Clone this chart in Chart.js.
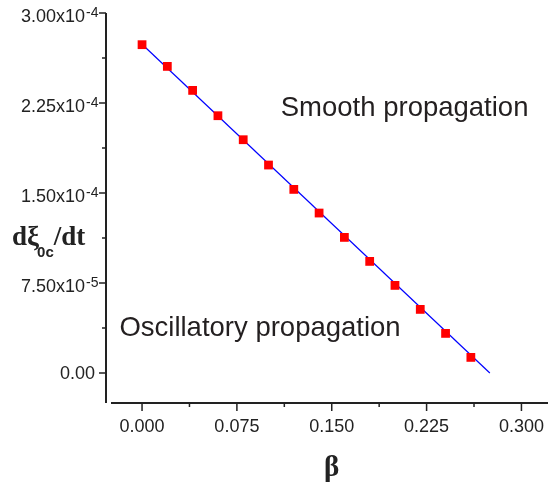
<!DOCTYPE html>
<html>
<head>
<meta charset="utf-8">
<script src="https://cdn.jsdelivr.net/npm/chart.js@4/dist/chart.umd.min.js"></script>
<style>
  html, body { margin: 0; padding: 0; background: #fff; }
  #wrap { width: 548px; height: 487px; }
</style>
</head>
<body>
<div id="wrap"><canvas id="myChart" width="548" height="487"></canvas></div>
<script>
// data
const betaValues = [0, 0.02, 0.04, 0.06, 0.08, 0.10, 0.12, 0.14, 0.16, 0.18, 0.20, 0.22, 0.24, 0.26];
const rateValues = [2.736e-4, 2.555e-4, 2.355e-4, 2.144e-4, 1.944e-4, 1.733e-4, 1.530e-4,
                    1.333e-4, 1.130e-4, 9.30e-5, 7.30e-5, 5.30e-5, 3.30e-5, 1.30e-5];
// linear fit drawn through the points
const fitBeta = [0, 0.275];
const fitRate = [2.74e-4, 0];

// axes
const xRange = [-0.0285, 0.321];
const yRange = [-2.5e-5, 3.0e-4];
const xTicks = [0, 0.075, 0.15, 0.225, 0.3];
const xTickLabels = ['0.000', '0.075', '0.150', '0.225', '0.300'];
const xMinorTicks = [0.0375, 0.1125, 0.1875, 0.2625];
const yTicks = [0, 7.5e-5, 1.5e-4, 2.25e-4, 3.0e-4];
const yTickLabels = ['0.00', '7.50x10^-5', '1.50x10^-4', '2.25x10^-4', '3.00x10^-4'];
const yMinorTicks = [3.75e-5, 1.125e-4, 1.875e-4, 2.625e-4];

const SANS = '"Liberation Sans", Arial, sans-serif';
const SERIF = '"Liberation Serif", "Times New Roman", serif';
const INK = '#222';

// axes, ticks, labels, titles, notes
const originAxes = {
    id: 'originAxes',
    afterDraw(chart) {
        const ctx = chart.ctx;
        const xs = chart.scales.x, ys = chart.scales.y;
        const ax = xs.left, ay = ys.bottom;
        ctx.save();
        ctx.strokeStyle = INK;
        ctx.fillStyle = INK;

        // axis lines (Origin style, not joined)
        ctx.lineWidth = 2;
        ctx.beginPath();
        ctx.moveTo(ax, ys.getPixelForValue(yRange[1]));
        ctx.lineTo(ax, ay);
        ctx.moveTo(ax + 5, ay);
        ctx.lineTo(xs.right, ay);
        ctx.stroke();

        // ticks
        ctx.lineWidth = 1.5;
        ctx.beginPath();
        xTicks.forEach(v => { const p = xs.getPixelForValue(v); ctx.moveTo(p, ay); ctx.lineTo(p, ay + 8); });
        xMinorTicks.forEach(v => { const p = xs.getPixelForValue(v); ctx.moveTo(p, ay); ctx.lineTo(p, ay + 4); });
        yTicks.forEach(v => { const p = ys.getPixelForValue(v); ctx.moveTo(ax, p); ctx.lineTo(ax - 7, p); });
        yMinorTicks.forEach(v => { const p = ys.getPixelForValue(v); ctx.moveTo(ax, p); ctx.lineTo(ax - 4, p); });
        ctx.stroke();

        // x tick labels
        ctx.font = '18px ' + SANS;
        ctx.textAlign = 'center';
        ctx.textBaseline = 'alphabetic';
        xTicks.forEach((v, i) => ctx.fillText(xTickLabels[i], xs.getPixelForValue(v), ay + 28.5));

        // y tick labels with superscript exponent
        yTicks.forEach((v, i) => {
            const p = ys.getPixelForValue(v);
            const parts = yTickLabels[i].split('^');
            if (parts.length === 1) {
                ctx.font = '18px ' + SANS;
                ctx.textAlign = 'right';
                ctx.fillText(parts[0], ax - 11, p + 6);
            } else {
                ctx.font = '18px ' + SANS;
                ctx.textAlign = 'right';
                ctx.fillText(parts[0], ax - 21, p + 8.5);
                ctx.font = '14px ' + SANS;
                ctx.textAlign = 'left';
                ctx.fillText(parts[1], ax - 20, p + 3.5);
            }
        });

        // x title
        ctx.font = 'bold 29px ' + SERIF;
        ctx.textAlign = 'center';
        ctx.fillText('β', xs.getPixelForValue(0.15), 476);

        // y title: dξ_0c/dt
        ctx.textAlign = 'left';
        let tx = 12;
        ctx.font = 'bold 27px ' + SERIF;
        ctx.fillText('dξ', tx, 245);
        tx += ctx.measureText('dξ').width - 2;
        ctx.font = 'bold 15px ' + SANS;
        ctx.fillText('0c', tx, 257);
        tx += ctx.measureText('0c').width;
        ctx.font = 'bold 27px ' + SERIF;
        ctx.fillText('/dt', tx, 245);

        // region notes
        ctx.fillStyle = '#231f20';
        ctx.font = '27.5px ' + SANS;
        ctx.fillText('Smooth propagation', xs.getPixelForValue(0.1097), ys.getPixelForValue(2.144e-4));
        ctx.fillText('Oscillatory propagation', xs.getPixelForValue(-0.0179), ys.getPixelForValue(3.11e-5));
        ctx.restore();
    }
};

const ctx = document.getElementById('myChart').getContext('2d');
const myChart = new Chart(ctx, {
    type: 'scatter',
    data: {
        datasets: [{
            label: 'data',
            data: betaValues.map((b, i) => ({ x: b, y: rateValues[i] })),
            pointStyle: 'rect',
            pointRadius: 6.2,
            pointBackgroundColor: '#ff0000',
            pointBorderColor: '#ff0000',
            pointBorderWidth: 0,
            showLine: false,
            order: 0
        }, {
            label: 'fit',
            data: fitBeta.map((b, i) => ({ x: b, y: fitRate[i] })),
            showLine: true,
            borderColor: '#0000ff',
            borderWidth: 1.2,
            pointRadius: 0,
            order: 1
        }]
    },
    options: {
        responsive: false,
        animation: false,
        events: [],
        layout: { autoPadding: false, padding: { top: 13, right: 0, left: 0, bottom: 0 } },
        plugins: { legend: { display: false }, tooltip: { enabled: false } },
        scales: {
            x: {
                type: 'linear',
                min: xRange[0],
                max: xRange[1],
                grid: { display: false },
                border: { display: false },
                ticks: { display: false },
                afterFit(scale) { scale.height = 84; }
            },
            y: {
                type: 'linear',
                min: yRange[0],
                max: yRange[1],
                grid: { display: false },
                border: { display: false },
                ticks: { display: false },
                afterFit(scale) { scale.width = 106; }
            }
        }
    },
    plugins: [originAxes]
});
</script>
</body>
</html>
